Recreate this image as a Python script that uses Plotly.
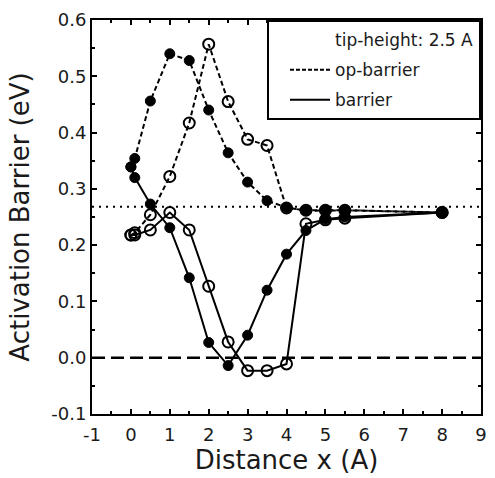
import plotly.graph_objects as go

# ---------------- data ----------------
x_pts = [0, 0.1, 0.5, 1, 1.5, 2, 2.5, 3, 3.5, 4, 4.5, 5, 5.5, 8]

op_filled = [0.339, 0.354, 0.456, 0.540, 0.528, 0.440, 0.364, 0.312, 0.279, 0.267, 0.261, 0.262, 0.262, 0.258]
op_open = [0.218, 0.222, 0.254, 0.322, 0.417, 0.557, 0.455, 0.388, 0.377, 0.266, 0.262, 0.262, 0.262, 0.258]
bar_filled = [0.339, 0.320, 0.273, 0.231, 0.142, 0.027, -0.014, 0.040, 0.120, 0.184, 0.226, 0.246, 0.250, 0.258]
bar_open = [0.218, 0.218, 0.227, 0.258, 0.227, 0.127, 0.028, -0.023, -0.023, -0.011, 0.238, 0.245, 0.248, 0.258]

ref_level = 0.268
zero_level = 0.0

x_ticks = [-1, 0, 1, 2, 3, 4, 5, 6, 7, 8, 9]
x_tick_text = ["-1", "0", "1", "2", "3", "4", "5", "6", "7", "8", "9"]
y_ticks = [-0.1, 0.0, 0.1, 0.2, 0.3, 0.4, 0.5, 0.6]
y_tick_text = ["-0.1", "0.0", "0.1", "0.2", "0.3", "0.4", "0.5", "0.6"]

legend_header = "tip-height: 2.5 A"
legend_op = "op-barrier"
legend_bar = "barrier"

FONT = "DejaVu Sans"
BLACK = "#000000"
TXT = "#1a1a1a"

fig = go.Figure()

# reference lines
fig.add_hline(y=ref_level, line=dict(color=BLACK, width=2, dash="2px,5px"), layer="below")
fig.add_hline(y=zero_level, line=dict(color=BLACK, width=2.5, dash="13px,6px"), layer="below")

mk_filled = dict(symbol="circle", size=10, color=BLACK, line=dict(color=BLACK, width=1))
mk_open = dict(symbol="circle-open", size=11, color=BLACK, line=dict(color=BLACK, width=2))

fig.add_trace(go.Scatter(x=x_pts, y=op_filled, mode="lines+markers",
                         line=dict(color=BLACK, width=2, dash="5px,3px"),
                         marker=mk_filled, showlegend=False))
fig.add_trace(go.Scatter(x=x_pts, y=op_open, mode="lines+markers",
                         line=dict(color=BLACK, width=2, dash="5px,3px"),
                         marker=mk_open, showlegend=False))
fig.add_trace(go.Scatter(x=x_pts, y=bar_filled, mode="lines+markers",
                         line=dict(color=BLACK, width=2),
                         marker=mk_filled, showlegend=False))
fig.add_trace(go.Scatter(x=x_pts, y=bar_open, mode="lines+markers",
                         line=dict(color=BLACK, width=2),
                         marker=mk_open, showlegend=False))

# legend entries
fig.add_trace(go.Scatter(x=[None], y=[None], mode="lines", name=legend_header, legendgroup="g1",
                         line=dict(color="rgba(0,0,0,0)", width=2)))
fig.add_trace(go.Scatter(x=[None], y=[None], mode="lines", name=legend_op, legendgroup="g2",
                         line=dict(color=BLACK, width=2, dash="4px,2px")))
fig.add_trace(go.Scatter(x=[None], y=[None], mode="lines", name=legend_bar, legendgroup="g3",
                         line=dict(color=BLACK, width=2)))

axis_common = dict(
    showgrid=False, zeroline=False, showline=True, linecolor=BLACK, linewidth=2,
    mirror="ticks", ticks="inside", ticklen=5, tickwidth=2, tickcolor=BLACK,
    tickfont=dict(family=FONT, size=18, color=TXT),
)

fig.update_xaxes(range=[-1, 9], tickvals=x_ticks, ticktext=x_tick_text, ticklabelstandoff=3,
                 minor=dict(ticks="inside", ticklen=3, tickwidth=1.5, dtick=0.5, tickcolor=BLACK),
                 title=dict(text="Distance x (A)", font=dict(family=FONT, size=26, color=TXT), standoff=6),
                 **axis_common)
fig.update_yaxes(range=[-0.1, 0.6], tickvals=y_ticks, ticktext=y_tick_text,
                 minor=dict(ticks="inside", ticklen=3, tickwidth=1.5, dtick=0.05, tickcolor=BLACK),
                 title=dict(text="Activation Barrier (eV)", font=dict(family=FONT, size=26, color=TXT), standoff=14),
                 **axis_common)

fig.update_layout(
    width=495, height=478,
    margin=dict(l=92, r=8, t=20, b=64),
    paper_bgcolor="white", plot_bgcolor="white",
    font=dict(family=FONT, color=TXT),
    legend=dict(x=1, y=1, xanchor="right", yanchor="top",
                bgcolor="white", bordercolor=BLACK, borderwidth=2,
                font=dict(family=FONT, size=17, color=TXT),
                itemwidth=40, tracegroupgap=5, indentation=16),
)

fig.write_html("out.html")
